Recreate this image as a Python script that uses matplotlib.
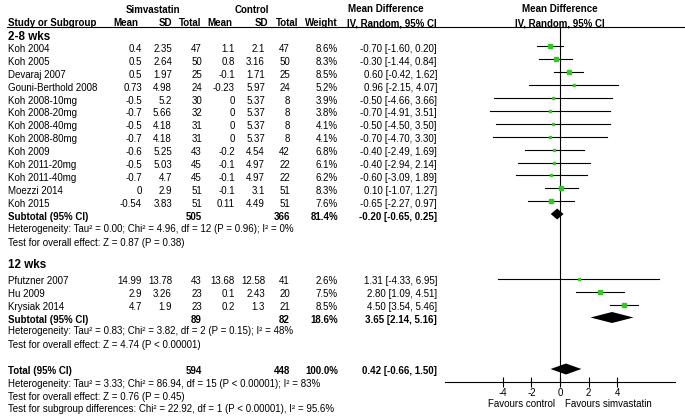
import matplotlib
matplotlib.use("Agg")
import matplotlib.pyplot as plt

plt.rcParams['font.family'] = ['Liberation Sans', 'DejaVu Sans']

W, H = 685, 416

# ---------------- data ----------------
g1_names = ["Koh 2004", "Koh 2005", "Devaraj 2007", "Gouni-Berthold 2008", "Koh 2008-10mg",
            "Koh 2008-20mg", "Koh 2008-40mg", "Koh 2008-80mg", "Koh 2009", "Koh 2011-20mg",
            "Koh 2011-40mg", "Moezzi 2014", "Koh 2015"]
g1_sim_mean = ["0.4", "0.5", "0.5", "0.73", "-0.5", "-0.7", "-0.5", "-0.7", "-0.6", "-0.5", "-0.7", "0", "-0.54"]
g1_sim_sd = ["2.35", "2.64", "1.97", "4.98", "5.2", "5.66", "4.18", "4.18", "5.25", "5.03", "4.7", "2.9", "3.83"]
g1_sim_n = [47, 50, 25, 24, 30, 32, 31, 31, 43, 45, 45, 51, 51]
g1_ctl_mean = ["1.1", "0.8", "-0.1", "-0.23", "0", "0", "0", "0", "-0.2", "-0.1", "-0.1", "-0.1", "0.11"]
g1_ctl_sd = ["2.1", "3.16", "1.71", "5.97", "5.37", "5.37", "5.37", "5.37", "4.54", "4.97", "4.97", "3.1", "4.49"]
g1_ctl_n = [47, 50, 25, 24, 8, 8, 8, 8, 42, 22, 22, 51, 51]
g1_weight = [8.6, 8.3, 8.5, 5.2, 3.9, 3.8, 4.1, 4.1, 6.8, 6.1, 6.2, 8.3, 7.6]
g1_md = [-0.70, -0.30, 0.60, 0.96, -0.50, -0.70, -0.50, -0.70, -0.40, -0.40, -0.60, 0.10, -0.65]
g1_lo = [-1.60, -1.44, -0.42, -2.15, -4.66, -4.91, -4.50, -4.70, -2.49, -2.94, -3.09, -1.07, -2.27]
g1_hi = [0.20, 0.84, 1.62, 4.07, 3.66, 3.51, 3.50, 3.30, 1.69, 2.14, 1.89, 1.27, 0.97]
g1_sub = dict(n1=505, n2=366, w="81.4%", md=-0.20, lo=-0.65, hi=0.25)
g1_het = "Heterogeneity: Tau\u00b2 = 0.00; Chi\u00b2 = 4.96, df = 12 (P = 0.96); I\u00b2 = 0%"
g1_test = "Test for overall effect: Z = 0.87 (P = 0.38)"

g2_names = ["Pfutzner 2007", "Hu 2009", "Krysiak 2014"]
g2_sim_mean = ["14.99", "2.9", "4.7"]
g2_sim_sd = ["13.78", "3.26", "1.9"]
g2_sim_n = [43, 23, 23]
g2_ctl_mean = ["13.68", "0.1", "0.2"]
g2_ctl_sd = ["12.58", "2.43", "1.3"]
g2_ctl_n = [41, 20, 21]
g2_weight = [2.6, 7.5, 8.5]
g2_md = [1.31, 2.80, 4.50]
g2_lo = [-4.33, 1.09, 3.54]
g2_hi = [6.95, 4.51, 5.46]
g2_sub = dict(n1=89, n2=82, w="18.6%", md=3.65, lo=2.14, hi=5.16)
g2_het = "Heterogeneity: Tau\u00b2 = 0.83; Chi\u00b2 = 3.82, df = 2 (P = 0.15); I\u00b2 = 48%"
g2_test = "Test for overall effect: Z = 4.74 (P < 0.00001)"

tot = dict(n1=594, n2=448, w="100.0%", md=0.42, lo=-0.66, hi=1.50)
tot_het = "Heterogeneity: Tau\u00b2 = 3.33; Chi\u00b2 = 86.94, df = 15 (P < 0.00001); I\u00b2 = 83%"
tot_test = "Test for overall effect: Z = 0.76 (P = 0.45)"
sub_diff = "Test for subgroup differences: Chi\u00b2 = 22.92, df = 1 (P < 0.00001), I\u00b2 = 95.6%"

xticks = [-4, -2, 0, 2, 4]

# ---------------- layout ----------------
fig = plt.figure(figsize=(W / 100, H / 100), dpi=100)

FS = 7.0
GREEN = "#2ecc1e"


def T(x, y, s, ha="left", bold=False, size=FS):
    fig.text(x / W, 1 - y / H, s, ha=ha, va="center", fontsize=size,
             fontweight="bold" if bold else "normal", color="black")


X_NAME = 8
X_M1, X_SD1, X_N1 = 142, 172, 202
X_M2, X_SD2, X_N2 = 235, 265, 290
X_W = 338
X_CI = 437
TXT_OFF = 2.5

# headers
HS = 7.0
T(153, 10, "Simvastatin", ha="center", bold=True, size=HS)
T(252, 10, "Control", ha="center", bold=True, size=HS)
T(386, 9, "Mean Difference", ha="center", bold=True, size=HS)
T(347, 23, "IV, Random, 95% CI", bold=True, size=HS)
T(560, 9, "Mean Difference", ha="center", bold=True, size=HS)
T(560, 23, "IV, Random, 95% CI", ha="center", bold=True, size=HS)
T(8, 23, "Study or Subgroup", bold=True, size=HS)
T(138, 23, "Mean", ha="right", bold=True, size=HS)
T(172, 23, "SD", ha="right", bold=True, size=HS)
T(201, 23, "Total", ha="right", bold=True, size=HS)
T(232, 23, "Mean", ha="right", bold=True, size=HS)
T(268, 23, "SD", ha="right", bold=True, size=HS)
T(298, 23, "Total", ha="right", bold=True, size=HS)
T(X_W, 23, "Weight", ha="right", bold=True, size=HS)
fig.add_artist(plt.Line2D([7 / W, 1.0], [1 - 27 / H, 1 - 27 / H], color="black", lw=0.8))

# forest axes: y in pixel rows
axf = fig.add_axes([445 / W, (H - 382) / H, (675 - 445) / W, (382 - 27) / H])
axf.set_xlim(-8.07, 8.07)
axf.set_ylim(382, 27)
for sp in ["left", "right", "top"]:
    axf.spines[sp].set_visible(False)
axf.spines["bottom"].set_linewidth(0.8)
axf.set_yticks([])
axf.set_xticks(xticks)
axf.set_xticklabels([str(t) for t in xticks])
axf.tick_params(axis="x", direction="inout", length=7, width=0.8, labelsize=7, pad=0.5)
axf.patch.set_alpha(0)
axf.axvline(0, color="black", lw=0.8, zorder=1)


def diamond(y, md, lo, hi, h=5.5):
    axf.fill([lo, md, hi, md], [y, y - h, y, y + h], color="black", zorder=3, lw=0)


def ci_text(v, lo, hi):
    return f"{v:.2f} [{lo:.2f}, {hi:.2f}]"


def study_rows(ys, names, m1, s1, n1, m2, s2, n2, w, md, lo, hi):
    for i, y in enumerate(ys):
        ty = y + TXT_OFF
        T(X_NAME, ty, names[i])
        T(X_M1, ty, m1[i], ha="right")
        T(X_SD1, ty, s1[i], ha="right")
        T(X_N1, ty, str(n1[i]), ha="right")
        T(X_M2, ty, m2[i], ha="right")
        T(X_SD2, ty, s2[i], ha="right")
        T(X_N2, ty, str(n2[i]), ha="right")
        T(X_W, ty, f"{w[i]:.1f}%", ha="right")
        T(X_CI, ty, ci_text(md[i], lo[i], hi[i]), ha="right")
        axf.plot([lo[i], hi[i]], [y, y], color="black", lw=0.8, zorder=2, clip_on=False)
        axf.plot([md[i]], [y], marker="s", ms=1.2 + 0.13 * w[i], color=GREEN,
                 mec=GREEN, zorder=4, clip_on=False)


def summary_row(y, label, s):
    ty = y + TXT_OFF
    T(X_NAME, ty, label, bold=True)
    T(X_N1, ty, str(s["n1"]), ha="right", bold=True)
    T(X_N2, ty, str(s["n2"]), ha="right", bold=True)
    T(X_W, ty, s["w"], ha="right", bold=True)
    T(X_CI, ty, ci_text(s["md"], s["lo"], s["hi"]), ha="right", bold=True)
    diamond(y, s["md"], s["lo"], s["hi"])


# group 1
T(X_NAME, 37, "2-8 wks", bold=True, size=8.4)
ys1 = [46.5 + 12.9 * i for i in range(len(g1_names))]
study_rows(ys1, g1_names, g1_sim_mean, g1_sim_sd, g1_sim_n, g1_ctl_mean, g1_ctl_sd,
           g1_ctl_n, g1_weight, g1_md, g1_lo, g1_hi)
summary_row(214, "Subtotal (95% CI)", g1_sub)
T(X_NAME, 229.5, g1_het)
T(X_NAME, 242.5, g1_test)

# group 2
T(X_NAME, 265, "12 wks", bold=True, size=8.4)
ys2 = [279 + 12.9 * i for i in range(len(g2_names))]
study_rows(ys2, g2_names, g2_sim_mean, g2_sim_sd, g2_sim_n, g2_ctl_mean, g2_ctl_sd,
           g2_ctl_n, g2_weight, g2_md, g2_lo, g2_hi)
summary_row(317.5, "Subtotal (95% CI)", g2_sub)
T(X_NAME, 331.5, g2_het)
T(X_NAME, 344.5, g2_test)

# total
axf.set_autoscale_on(False)
summary_row(369, "Total (95% CI)", tot)
T(X_NAME, 384, tot_het)
T(X_NAME, 396.5, tot_test)
T(X_NAME, 409.5, sub_diff)

T(555, 404, "Favours control", ha="right")
T(565, 404, "Favours simvastatin", ha="left")

fig.savefig("out.png", dpi=100)
